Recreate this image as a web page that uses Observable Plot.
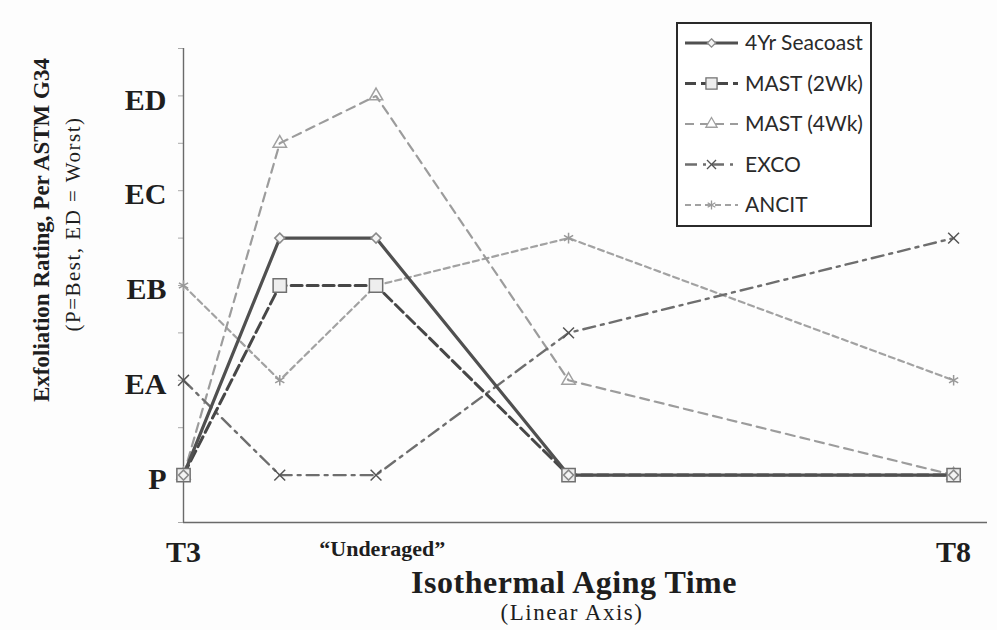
<!DOCTYPE html>
<html><head><meta charset="utf-8">
<script src="https://cdn.jsdelivr.net/npm/d3@7"></script>
<script src="https://cdn.jsdelivr.net/npm/@observablehq/plot@0.6"></script>
<style>
body{margin:0;background:#fff;}
#wrap{position:relative;width:997px;height:630px;overflow:hidden;background:#fdfdfd;}
.t{position:absolute;white-space:nowrap;font-family:"Liberation Serif","Times New Roman",serif;color:#1e1e1e;transform:translate(-50%,-50%);}
.rot{transform:translate(-50%,-50%) rotate(-90deg);}
#legend{position:absolute;left:676px;top:22px;}
</style></head><body><div id="wrap"></div>
<script>
// ---- data ----
const agingTimes = [3, 3.625, 4.25, 5.5, 8];
const ratingLevels = [0, 1, 2, 3, 4];
const ratingLabels = ["P", "EA", "EB", "EC", "ED"];
const minorTicks = [-0.5, 0, 0.5, 1, 1.5, 2, 2.5, 3, 3.5, 4, 4.5];
const xTickValues = [3, 8];
const xTickLabels = ["T3", "T8"];
const underagedPos = [4.29];
const underagedLabel = ["“Underaged”"];
const seriesNames = ["4Yr Seacoast", "MAST (2Wk)", "MAST (4Wk)", "EXCO", "ANCIT"];
const seacoast4yr = [0, 2.5, 2.5, 0, 0];
const mast2wk = [0, 2, 2, 0, 0];
const mast4wk = [0, 3.5, 4, 1, 0];
const exco = [1, 0, 0, 1.5, 2.5];
const ancit = [2, 1, 2, 2.5, 1];

const seriesValues = [seacoast4yr, mast2wk, mast4wk, exco, ancit];
const styles = [
  {stroke: "#505050", width: 3.2, dash: null, symbol: "diamond2", r: 4.5, mstroke: "#8a8a8a", fill: "#f4f4f4"},
  {stroke: "#474747", width: 3, dash: "11,5", symbol: "square", r: 7.5, mstroke: "#707070", fill: "#eeeeee"},
  {stroke: "#9c9c9c", width: 2.2, dash: "9,6", symbol: "triangle", r: 5, mstroke: "#a0a0a0", fill: "none"},
  {stroke: "#6e6e6e", width: 2.4, dash: "12,6,3,6", symbol: "times", r: 5, mstroke: "#555", fill: "none"},
  {stroke: "#a2a2a2", width: 2.2, dash: "6,4", symbol: "asterisk", r: 5, mstroke: "#999", fill: "none"}
];

const series = seriesNames.map((name, i) =>
  agingTimes.map((t, j) => ({name, t, v: seriesValues[i][j]})));

const xDomain = [3, 8.22];
const yDomain = [-0.5, 4.5];

const drawOrder = [4, 2, 3, 1, 0];
const marks = [];
for (const i of drawOrder) {
  const s = styles[i];
  marks.push(Plot.line(series[i], {x: "t", y: "v", stroke: s.stroke, strokeWidth: s.width, strokeDasharray: s.dash, strokeLinejoin: "miter"}));
}
for (const i of drawOrder) {
  const s = styles[i];
  marks.push(Plot.dot(series[i], {x: "t", y: "v", symbol: () => s.symbol, r: s.r, stroke: s.mstroke, strokeWidth: 1.5, fill: s.fill}));
}

const chart = Plot.plot({
  width: 997, height: 630,
  marginLeft: 183, marginRight: 10, marginTop: 48, marginBottom: 108,
  style: {fontFamily: "'Liberation Serif','Times New Roman',serif", background: "transparent", color: "#1e1e1e"},
  x: {domain: xDomain},
  y: {domain: yDomain},
  symbol: {type: "identity"},
  marks: [
    Plot.axisY({ticks: minorTicks, tickSize: 5, text: null, stroke: "#aaa", label: null}),
    Plot.axisY({ticks: ratingLevels, tickFormat: (d) => ratingLabels[ratingLevels.indexOf(d)], tickSize: 0, tickPadding: 17, fontSize: 30, fontWeight: "bold", dy: 4, label: null}),
    Plot.axisX({ticks: xTickValues, tickFormat: (d) => xTickLabels[xTickValues.indexOf(d)], tickSize: 0, tickPadding: 18, fontSize: 30, fontWeight: "bold", label: null}),
    Plot.axisX({ticks: underagedPos, tickFormat: () => underagedLabel[0], tickSize: 0, tickPadding: 18, fontSize: 22, fontWeight: "bold", label: null}),
    Plot.ruleX([xDomain[0]], {stroke: "#6a6a6a", strokeWidth: 1.4}),
    Plot.ruleY([yDomain[0]], {stroke: "#6a6a6a", strokeWidth: 1.4}),
    ...marks
  ]
});

const wrap = document.getElementById("wrap");
wrap.appendChild(chart);

function addText(txt, x, y, css, cls) {
  const d = document.createElement("div");
  d.className = "t" + (cls ? " " + cls : "");
  d.textContent = txt;
  d.style.left = x + "px"; d.style.top = y + "px";
  Object.assign(d.style, css);
  wrap.appendChild(d);
}
addText("Exfoliation Rating, Per ASTM G34", 42, 230, {fontSize: "23px", fontWeight: "bold"}, "rot");
addText("(P=Best, ED = Worst)", 73, 224, {fontSize: "21px", letterSpacing: "1.5px"}, "rot");
addText("Isothermal Aging Time", 574, 582, {fontSize: "32px", fontWeight: "bold", letterSpacing: "0.5px"});
addText("(Linear Axis)", 572, 613, {fontSize: "23px", letterSpacing: "1.5px"});

// ---- legend ----
const lw = 196, lh = 205;
const leg = d3.create("svg").attr("id", "legend").attr("width", lw).attr("height", lh);
leg.append("rect").attr("x", 1).attr("y", 1).attr("width", lw - 2).attr("height", lh - 2)
  .attr("fill", "#fff").attr("stroke", "#2a2a2a").attr("stroke-width", 2);
const symMap = {diamond2: d3.symbolDiamond2, square: d3.symbolSquare, triangle: d3.symbolTriangle, times: d3.symbolTimes, asterisk: d3.symbolAsterisk};
seriesNames.forEach((name, i) => {
  const s = styles[i];
  const cy = 21 + i * 40.5;
  const g = leg.append("g").attr("transform", `translate(0,${cy})`);
  g.append("line").attr("x1", 9).attr("x2", 62).attr("y1", 0).attr("y2", 0)
    .attr("stroke", s.stroke).attr("stroke-width", s.width).attr("stroke-dasharray", s.dash);
  g.append("path").attr("transform", "translate(35.5,0)")
    .attr("d", d3.symbol(symMap[s.symbol], Math.PI * s.r * s.r * 0.7)())
    .attr("fill", s.fill === "none" ? "#fff" : s.fill).attr("stroke", s.mstroke).attr("stroke-width", 1.3);
  g.append("text").attr("x", 69).attr("y", 0).attr("dy", "0.35em").text(name)
    .attr("font-family", "Lato, 'Open Sans', sans-serif").attr("font-size", 21).attr("fill", "#2a2a2a");
});
wrap.appendChild(leg.node());
</script></body></html>
